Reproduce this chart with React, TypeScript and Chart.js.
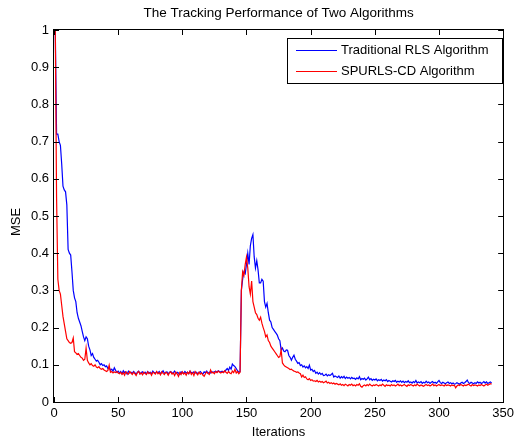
import React, { useEffect, useRef } from "react";
import { Chart, registerables } from "chart.js";

Chart.register(...registerables);

const TITLE = "The Tracking Performance of Two Algorithms";
const X_LABEL = "Iterations";
const Y_LABEL = "MSE";
const SERIES_NAMES = ["Traditional RLS Algorithm", "SPURLS-CD Algorithm"];
const X_TICKS = [0, 50, 100, 150, 200, 250, 300, 350];
const Y_TICKS = [0, 0.1, 0.2, 0.3, 0.4, 0.5, 0.6, 0.7, 0.8, 0.9, 1];
const FIRST_ITERATION = 1;

// Traditional RLS (blue), iterations 1..341
const rlsMSE = [
  1.0, 0.72, 0.72, 0.70, 0.69, 0.64, 0.58, 0.57, 0.565, 0.53,
  0.41, 0.40, 0.395, 0.35, 0.30, 0.28, 0.27, 0.24, 0.225, 0.215,
  0.205, 0.19, 0.175, 0.165, 0.175, 0.17, 0.15, 0.14, 0.125, 0.13,
  0.12, 0.115, 0.11, 0.112, 0.107, 0.10, 0.103, 0.098, 0.10, 0.095,
  0.097, 0.09, 0.093, 0.085, 0.088, 0.083, 0.092, 0.085, 0.08, 0.083,
  0.078, 0.082, 0.076, 0.084, 0.079, 0.081, 0.075, 0.083, 0.078, 0.080,
  0.077, 0.082, 0.079, 0.074, 0.080, 0.083, 0.076, 0.079, 0.081, 0.077,
  0.080, 0.075, 0.082, 0.078, 0.080, 0.076, 0.083, 0.079, 0.077, 0.081,
  0.078, 0.082, 0.076, 0.080, 0.084, 0.077, 0.079, 0.081, 0.075, 0.080,
  0.082, 0.077, 0.079, 0.083, 0.076, 0.080, 0.078, 0.074, 0.081, 0.079,
  0.077, 0.082, 0.078, 0.080, 0.076, 0.083, 0.079, 0.077, 0.081, 0.078,
  0.080, 0.076, 0.079, 0.082, 0.078, 0.075, 0.081, 0.079, 0.083, 0.077,
  0.080, 0.078, 0.082, 0.079, 0.081, 0.083, 0.080, 0.084, 0.082, 0.081,
  0.083, 0.080, 0.082, 0.086, 0.090, 0.085, 0.094, 0.088, 0.102, 0.098,
  0.095, 0.090, 0.084, 0.080, 0.082,
  0.30, 0.33, 0.35, 0.345, 0.37, 0.40, 0.37, 0.42, 0.44, 0.45,
  0.39, 0.36, 0.38, 0.355, 0.32, 0.32, 0.33, 0.325, 0.27, 0.255,
  0.265, 0.24, 0.22, 0.215, 0.20, 0.195, 0.19, 0.185, 0.18, 0.17,
  0.165, 0.14, 0.145, 0.137, 0.135, 0.14, 0.139, 0.125, 0.12, 0.112,
  0.12, 0.126, 0.115, 0.11, 0.104, 0.106, 0.098, 0.10, 0.094, 0.097,
  0.092, 0.095, 0.09, 0.099, 0.086, 0.088, 0.082, 0.085, 0.077, 0.08,
  0.075, 0.079, 0.074, 0.077, 0.071, 0.072, 0.075, 0.07, 0.073, 0.071,
  0.074, 0.077, 0.067, 0.07, 0.068,
  0.066, 0.070, 0.064, 0.068, 0.065, 0.069, 0.063, 0.067, 0.064, 0.066,
  0.062, 0.066, 0.063, 0.064, 0.061, 0.065, 0.062, 0.068, 0.060, 0.063,
  0.061, 0.064, 0.059, 0.062, 0.067, 0.060, 0.063, 0.058, 0.061, 0.059,
  0.062, 0.057, 0.060, 0.058, 0.061, 0.056, 0.059, 0.057, 0.060, 0.055,
  0.058, 0.056, 0.054, 0.057, 0.055, 0.058, 0.053, 0.056, 0.054, 0.057,
  0.053, 0.056, 0.052, 0.055, 0.053, 0.057, 0.052, 0.054, 0.051, 0.055,
  0.052, 0.058, 0.051, 0.054, 0.052, 0.055, 0.050, 0.053, 0.051, 0.056,
  0.052, 0.054, 0.050, 0.053, 0.055, 0.051, 0.053, 0.050, 0.054, 0.058,
  0.052, 0.050, 0.053, 0.051, 0.049, 0.052, 0.054, 0.050, 0.052, 0.049,
  0.051, 0.048, 0.049, 0.052, 0.050, 0.048, 0.051, 0.053, 0.050, 0.052,
  0.055, 0.059, 0.052, 0.050, 0.053, 0.051, 0.049, 0.052, 0.050, 0.054,
  0.051, 0.053, 0.050, 0.052, 0.055, 0.051, 0.054, 0.050, 0.052, 0.054, 0.051,
];

// SPURLS-CD (red), iterations 1..341
const spurlsMSE = [
  1.0, 0.55, 0.33, 0.30, 0.29, 0.26, 0.23, 0.21, 0.19, 0.17,
  0.165, 0.16, 0.158, 0.16, 0.172, 0.135, 0.132, 0.128, 0.13, 0.125,
  0.12, 0.118, 0.112, 0.115, 0.145, 0.112, 0.105, 0.10, 0.103, 0.098,
  0.096, 0.10, 0.094, 0.092, 0.095, 0.09, 0.088, 0.09, 0.086, 0.084,
  0.082, 0.085, 0.099, 0.08, 0.082, 0.078, 0.081, 0.079, 0.082, 0.078,
  0.076, 0.080, 0.074, 0.079, 0.072, 0.081, 0.077, 0.075, 0.082, 0.078,
  0.074, 0.080, 0.076, 0.071, 0.079, 0.082, 0.075, 0.078, 0.073, 0.080,
  0.077, 0.074, 0.081, 0.076, 0.079, 0.072, 0.080, 0.078, 0.075, 0.082,
  0.076, 0.079, 0.073, 0.081, 0.077, 0.074, 0.080, 0.078, 0.072, 0.079,
  0.081, 0.075, 0.078, 0.071, 0.080, 0.076, 0.069, 0.079, 0.074, 0.081,
  0.075, 0.078, 0.072, 0.080, 0.076, 0.083, 0.074, 0.079, 0.071, 0.082,
  0.077, 0.073, 0.080, 0.075, 0.078, 0.072, 0.069, 0.076, 0.081, 0.077,
  0.074, 0.086, 0.078, 0.080, 0.076, 0.082, 0.079, 0.083, 0.080, 0.078,
  0.081, 0.079, 0.084, 0.080, 0.077, 0.082, 0.078, 0.076, 0.083, 0.079,
  0.088, 0.078, 0.082, 0.076, 0.080,
  0.30, 0.35, 0.34, 0.37, 0.39, 0.36, 0.31, 0.29, 0.325, 0.27,
  0.255, 0.24, 0.235, 0.225, 0.22, 0.228, 0.212, 0.20, 0.19, 0.175,
  0.18, 0.165, 0.16, 0.15, 0.145, 0.14, 0.135, 0.13, 0.125, 0.12,
  0.122, 0.14, 0.105, 0.10, 0.096, 0.094, 0.092, 0.09, 0.087, 0.088,
  0.085, 0.083, 0.082, 0.08, 0.081, 0.078, 0.076, 0.067, 0.072, 0.066,
  0.068, 0.062, 0.06, 0.063, 0.058, 0.06, 0.056, 0.057, 0.055, 0.058,
  0.054, 0.056, 0.053, 0.055, 0.052, 0.054, 0.056, 0.051, 0.053, 0.05,
  0.052, 0.049, 0.051, 0.048, 0.05,
  0.048, 0.046, 0.049, 0.045, 0.047, 0.044, 0.048, 0.046, 0.043, 0.047,
  0.045, 0.048, 0.044, 0.046, 0.043, 0.047, 0.045, 0.049, 0.042, 0.040,
  0.044, 0.046, 0.043, 0.047, 0.044, 0.048, 0.045, 0.043, 0.046, 0.044,
  0.047, 0.045, 0.043, 0.046, 0.044, 0.048, 0.045, 0.042, 0.046, 0.044,
  0.045, 0.043, 0.047, 0.044, 0.046, 0.043, 0.045, 0.048, 0.044, 0.046,
  0.043, 0.045, 0.047, 0.044, 0.042, 0.046, 0.044, 0.047, 0.045, 0.043,
  0.046, 0.044, 0.048, 0.045, 0.043, 0.046, 0.044, 0.042, 0.045, 0.047,
  0.044, 0.046, 0.043, 0.045, 0.048, 0.044, 0.046, 0.043, 0.045, 0.047,
  0.044, 0.046, 0.045, 0.043, 0.047, 0.044, 0.046, 0.045, 0.043, 0.046,
  0.044, 0.045, 0.038, 0.043, 0.046, 0.044, 0.047, 0.045, 0.043, 0.046,
  0.044, 0.046, 0.048, 0.045, 0.043, 0.047, 0.044, 0.046, 0.045, 0.043,
  0.046, 0.044, 0.047, 0.045, 0.043, 0.046, 0.048, 0.045, 0.047, 0.049, 0.048,
];

const COLORS = ["#0000ff", "#ff0000"];
const FONT = "'Liberation Sans', Arial, Helvetica, sans-serif";

const toPoints = (vals: number[]) =>
  vals.map((v, i) => ({ x: FIRST_ITERATION + i, y: v }));

const matlabPlugin = {
  id: "matlabFrame",
  afterDraw(chart: any) {
    const { ctx, chartArea } = chart;
    const { left, right, top, bottom } = chartArea;
    const xs = chart.scales.x;
    const ys = chart.scales.y;
    ctx.save();
    // frame
    ctx.strokeStyle = "#000";
    ctx.lineWidth = 1;
    ctx.strokeRect(Math.round(left) - 0.5, Math.round(top) - 0.5, Math.round(right - left) + 1, Math.round(bottom - top) + 1);
    // inward ticks
    const TL = 5;
    ctx.beginPath();
    X_TICKS.forEach((t) => {
      const px = Math.round(xs.getPixelForValue(t)) + 0.5;
      ctx.moveTo(px, bottom);
      ctx.lineTo(px, bottom - TL);
      ctx.moveTo(px, top);
      ctx.lineTo(px, top + TL);
    });
    Y_TICKS.forEach((t) => {
      const py = Math.round(ys.getPixelForValue(t)) + 0.5;
      ctx.moveTo(left, py);
      ctx.lineTo(left + TL, py);
      ctx.moveTo(right, py);
      ctx.lineTo(right - TL, py);
    });
    ctx.stroke();

    ctx.fillStyle = "#000";
    // title
    ctx.font = `13.5px ${FONT}`;
    ctx.textAlign = "center";
    ctx.textBaseline = "middle";
    ctx.fillText(TITLE, (left + right) / 2, 13);
    ctx.font = `13px ${FONT}`;
    // x label
    ctx.fillText(X_LABEL, (left + right) / 2, 432);
    // y label
    ctx.save();
    ctx.translate(16, 222);
    ctx.rotate(-Math.PI / 2);
    ctx.fillText(Y_LABEL, 0, 0);
    ctx.restore();

    // legend
    const bx = 287.5, by = 38.5, bw = 215, bh = 45;
    ctx.fillStyle = "#fff";
    ctx.fillRect(bx, by, bw, bh);
    ctx.strokeStyle = "#000";
    ctx.lineWidth = 1;
    ctx.strokeRect(bx, by, bw, bh);
    ctx.textAlign = "left";
    ctx.fillStyle = "#000";
    SERIES_NAMES.forEach((name, i) => {
      const y = 50 + i * 21;
      ctx.strokeStyle = COLORS[i];
      ctx.beginPath();
      ctx.moveTo(296, y + 0.5);
      ctx.lineTo(337, y + 0.5);
      ctx.stroke();
      ctx.fillText(name, 341, y);
    });
    ctx.restore();
  },
};

export default function App() {
  const ref = useRef<HTMLCanvasElement | null>(null);
  useEffect(() => {
    if (!ref.current) return;
    const chart = new Chart(ref.current, {
      type: "line",
      data: {
        datasets: [
          {
            label: SERIES_NAMES[0],
            data: toPoints(rlsMSE),
            borderColor: COLORS[0],
            borderWidth: 1.2,
            pointRadius: 0,
            tension: 0,
            fill: false,
            order: 2,
          },
          {
            label: SERIES_NAMES[1],
            data: toPoints(spurlsMSE),
            borderColor: COLORS[1],
            borderWidth: 1.2,
            pointRadius: 0,
            tension: 0,
            fill: false,
            order: 1,
          },
        ],
      },
      options: {
        responsive: false,
        animation: false,
        devicePixelRatio: 1,
        layout: { padding: { left: 0, top: 30, right: 10, bottom: 0 } },
        plugins: {
          legend: { display: false },
          title: { display: false },
          tooltip: { enabled: false },
        },
        scales: {
          x: {
            type: "linear",
            min: 0,
            max: 350,
            grid: { display: false, drawTicks: false },
            border: { display: false },
            afterFit: (s: any) => {
              s.height = 37;
            },
            afterBuildTicks: (s: any) => {
              s.ticks = X_TICKS.map((v) => ({ value: v }));
            },
            ticks: {
              autoSkip: false,
              maxRotation: 0,
              padding: 4,
              color: "#000",
              font: { family: FONT, size: 13 },
              callback: (v: any) => String(Number(v)),
            },
          },
          y: {
            type: "linear",
            min: 0,
            max: 1,
            grid: { display: false, drawTicks: false },
            border: { display: false },
            afterFit: (s: any) => {
              s.width = 54;
            },
            afterBuildTicks: (s: any) => {
              s.ticks = Y_TICKS.map((v) => ({ value: v }));
            },
            ticks: {
              autoSkip: false,
              padding: 5,
              color: "#000",
              font: { family: FONT, size: 13 },
              callback: (v: any) => String(Number(v)),
            },
          },
        },
      },
      plugins: [matlabPlugin],
    });
    return () => chart.destroy();
  }, []);
  return (
    <div style={{ position: "fixed", left: 0, top: 0, width: 518, height: 439, background: "#fff" }}>
      <canvas ref={ref} width={518} height={439} style={{ display: "block" }} />
    </div>
  );
}
